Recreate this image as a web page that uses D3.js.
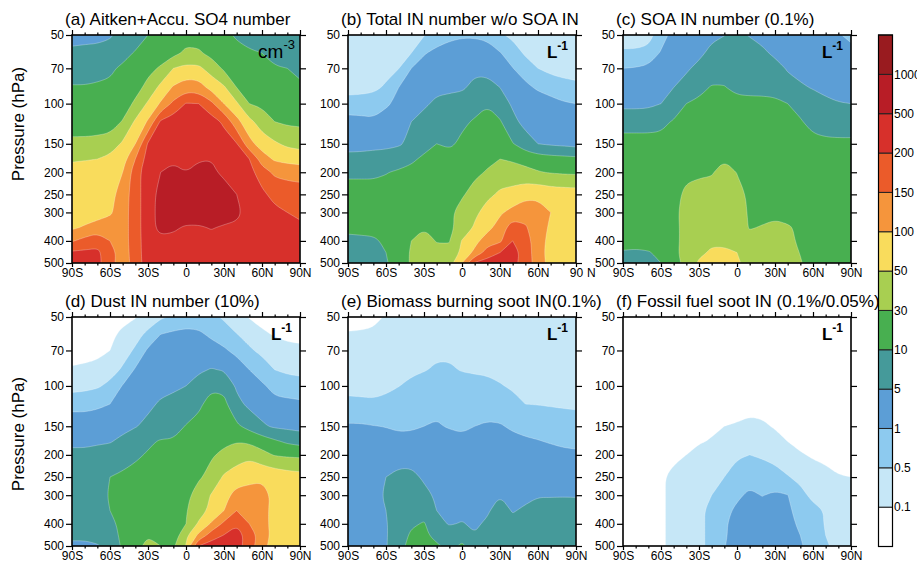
<!DOCTYPE html>
<html><head><meta charset="utf-8">
<script src="https://cdn.jsdelivr.net/npm/d3@7"></script>
<style>body{margin:0;background:#fff} svg text{font-family:"Liberation Sans",Arial,Helvetica,sans-serif}</style>
</head><body><svg id="chart" width="917" height="562"></svg>
<script>
// ---------- grid coordinates ----------
const latitudes = [-90,-80,-70,-60,-50,-40,-30,-20,-10,0,10,20,30,40,50,60,70,80,90];
const pressureLevels = [50,60,70,85,100,120,150,175,200,250,300,350,400,450,500];
// ---------- contour levels / colour bar ----------
const contourLevels = [0.1,0.5,1,5,10,30,50,100,150,200,500,1000];
const colorbarLabels = ["0.1","0.5","1","5","10","30","50","100","150","200","500","1000"];
const fillColors = ["#FFFFFF","#C6E7F7","#8DCAEF","#5C9ED6","#459A9A","#48AF50","#A8CF51","#F9DC5C","#F5953C","#EB5B2A","#D7302B","#B81D26","#991B1F"];
// ---------- ticks ----------
const latTickValues = [-90,-60,-30,0,30,60,90];
const latTickLabels = ["90S","60S","30S","0","30N","60N","90N"];
const latMinorTicks = [-80,-70,-50,-40,-20,-10,10,20,40,50,70,80];
const pressureTicks = [50,70,100,150,200,250,300,400,500];

// ---------- data: rows = pressure levels (50..500 hPa), columns = latitudes (90S..90N) ----------
const so4Number = [
[2.5,2.5,2.5,4,7,7,10,15,17,20,20,17,14,9,7,7,7,6.5,6.5],
[6,6.5,7,7,8,11,14,17,22,33,32,22,17,15,12,10,8,7,6.5],
[7,7,8,9,12,17,22,32,50,60,58,40,25,17,15,13,11,10,8],
[11,11,11.5,12,14,20,35,60,105,125,120,80,55,30,22,18,15,14,13],
[13,13,13.5,14,17,33,55,105,160,210,200,160,100,55,30,24,20,18,17],
[15,15,16,18,31,55,105,230,320,350,350,300,190,115,60,40,30,25,24],
[35,35,36,38,55,100,220,320,400,420,430,400,300,210,115,70,55,45,42],
[48,49,50,60,75,150,300,400,440,460,470,490,450,330,200,125,90,80,75],
[60,60,62,70,100,175,350,500,600,500,600,560,430,350,280,170,140,130,125],
[62,63,65,80,120,175,350,600,700,700,700,700,650,500,380,250,180,178,175],
[66,68,72,90,125,175,350,620,750,750,750,750,700,550,400,330,260,200,180],
[90,105,120,125,125,175,350,600,550,450,450,520,450,450,400,350,330,300,280],
[145,165,180,150,125,175,330,400,400,380,380,380,380,380,370,360,350,340,330],
[230,240,240,170,120,175,320,370,360,350,350,350,350,350,350,350,350,350,350],
[250,260,250,170,115,175,300,350,340,340,340,340,340,340,340,340,340,340,340]
];
const totalInNoSoa = [
[0.2,0.2,0.2,0.2,0.25,0.3,0.45,0.7,0.8,0.9,0.9,0.8,0.55,0.35,0.3,0.25,0.2,0.2,0.2],
[0.2,0.2,0.22,0.25,0.35,0.5,0.95,1.5,2.5,3,3,2.5,1.1,0.7,0.4,0.3,0.25,0.2,0.2],
[0.2,0.2,0.25,0.3,0.48,1.0,1.8,2.5,3,3.5,3.5,3,2,1.05,0.7,0.5,0.35,0.3,0.28],
[0.22,0.25,0.35,0.55,1.0,1.8,2.5,3,3.5,4,6,6.5,5,3,1.5,0.9,0.7,0.62,0.58],
[0.75,0.75,0.72,0.9,1.5,2.5,3.5,6,6.5,7,8,9.5,7,4,3,2.5,2,1.2,1.0],
[1.5,1.4,1.3,2,2.5,5,7,7.5,8,9,11,15,11,6,3,2.5,2.2,2,1.8],
[2,2.2,2.5,3,4,6,8,10,9,12,17,20,17,10.5,7,5,4,3.5,3],
[7,7,7.5,7.5,8,9,12,15,15,17,20,25,30,25,20,17,15,14,13],
[9.5,9.5,9.5,9.8,11,13,15,16,17,20,25,31,40,40,35,31,28,26,25],
[12,12,12,13,14,15,16,17,20,27,35,45,55,60,80,85,75,72,70],
[13,13,13,14,15,17,19,20,25,35,45,65,90,115,130,120,100,75,65],
[14,14,14,15,17,20,28,22,25,35,55,80,120,175,155,120,90,70,65],
[8,8.5,9,12,20,30,38,28,29,52,80,125,140,200,170,120,80,70,65],
[7,7,7.5,10,15,32,38,35,32,60,110,170,200,280,180,115,80,70,65],
[7,7,7.5,9.5,15,32,40,40,40,100,220,300,300,250,180,120,80,70,65]
];
const soaIn = [
[0.25,0.25,0.3,0.7,2,2.5,3,3.5,4.8,6,4.5,3.5,3,3,3,2.5,2,1.2,0.8],
[0.55,0.55,0.6,1.2,2,2.5,3.5,6,7,7.5,7,5.5,4,3,2.5,2.5,2.2,2,2],
[1.0,1.1,1.5,2,2.5,4,6,7,8,8.5,8,7,6,4.5,3,2.5,2.2,2,2],
[1.5,1.6,2,3,5,6.5,8,11,10.5,8.5,8,7.5,7,6,5.5,4.5,3,2.5,2.5],
[3.2,3.2,3.5,5,6.5,10,13,15,16,14,14,15,14,10,8,7,6,5.2,5],
[8,8,8,8.5,11,15,17,17,18,18,17,17,16,15,11,8,7,6.5,6.5],
[14,14,14,14,15,16,17,18,18,18,17,17,17,16,15,14,13,13,13],
[15,15,16,16,17,18,20,22,27,26,20,18,18,17,17,16,16,16,16],
[16,16,17,17,18,24,25,27,38,29,21,19,18,18,17,17,16,16,16],
[16,16,17,18,22,33,37,38,40,35,25,20,18,18,17,17,16,16,16],
[16,16,17,18,25,34,38,38,40,36,27,22,20,19,18,17,16,16,16],
[15,16,17,18,24,34,38,40,40,38,28,31,36,32,24,20,18,17,17],
[14,15,16,18,24,34,45,46,46,42,36,38,38,34,25,20,18,17,17],
[9.5,9,9.5,13,24,35,45,55,55,50,40,38,38,35,29,20,18,17,17],
[7,7,8,10,20,35,55,62,62,55,42,40,38,35,31,20,18,17,17]
];
const dustIn = [
[0.05,0.05,0.05,0.05,0.06,0.09,0.2,0.4,0.55,0.7,0.7,0.6,0.4,0.2,0.09,0.05,0.05,0.05,0.05],
[0.05,0.05,0.05,0.07,0.15,0.3,0.6,1.1,1.5,1.6,1.4,0.9,0.7,0.52,0.3,0.15,0.09,0.06,0.05],
[0.05,0.06,0.07,0.1,0.25,0.55,1.3,2,2.5,2.5,2.5,2,1.3,0.8,0.55,0.35,0.25,0.2,0.18],
[0.12,0.13,0.15,0.25,0.55,1.2,2,2.5,3,3.5,4,5.2,4.5,3,1,0.7,0.5,0.35,0.3],
[0.25,0.3,0.4,0.6,1.1,2,2.5,3,3.5,5,6.5,9,8.5,4,2.5,1.3,0.8,0.75,0.7],
[0.85,0.85,0.9,1.0,1.8,2.5,3.5,5.5,6.5,7,9,14,13,6,3.5,2.5,1.6,1.4,1.3],
[2,2,2.2,2.5,3,4.5,6,7,8,10.5,13,16,16,12,8,5.5,4,3.5,3],
[3.5,3.5,4,4.5,6,8,9,11,11,14,17,20,25,29,25,18,12,9,8],
[6,6,6.5,7,7.5,9,11,13,15,17,20,27,33,40,45,35,28,25,24],
[7,7,7.5,10,12,14,15,16,17,20,26,35,55,70,80,90,80,70,65],
[7.5,7.5,8,11,13,15,16,17,18,22,38,52,80,115,120,115,85,70,65],
[8,8,8.5,10,13,15,16,17,19,28,40,60,100,150,140,115,80,70,65],
[8,8,8.5,9,12,15,16,17,20,30,55,105,160,195,150,115,80,70,65],
[5.5,5.5,6,8,12,17,28,20,16,45,110,175,210,280,180,120,80,70,65],
[4,4,4.5,6,12,20,35,30,25,52,200,300,300,280,175,110,80,70,65]
];
const bbSootIn = [
[0.05,0.05,0.06,0.12,0.15,0.18,0.2,0.25,0.25,0.22,0.2,0.2,0.2,0.2,0.2,0.2,0.2,0.2,0.2],
[0.12,0.13,0.15,0.2,0.22,0.24,0.26,0.28,0.28,0.27,0.26,0.25,0.25,0.24,0.23,0.22,0.22,0.22,0.22],
[0.2,0.2,0.2,0.22,0.25,0.28,0.32,0.36,0.36,0.33,0.3,0.3,0.28,0.27,0.26,0.25,0.24,0.24,0.24],
[0.25,0.25,0.25,0.28,0.3,0.35,0.45,0.55,0.55,0.45,0.4,0.38,0.35,0.3,0.28,0.27,0.26,0.25,0.25],
[0.3,0.3,0.32,0.38,0.48,0.6,0.7,0.75,0.75,0.7,0.65,0.6,0.52,0.42,0.38,0.35,0.33,0.32,0.3],
[0.6,0.58,0.55,0.58,0.7,0.75,0.8,0.85,0.85,0.8,0.8,0.75,0.7,0.6,0.5,0.48,0.45,0.43,0.42],
[1.2,1.2,1.05,0.98,0.9,0.92,1.0,1.15,0.95,0.85,1.0,1.2,1.15,0.9,0.8,0.75,0.7,0.65,0.62],
[1.8,1.8,1.8,1.7,1.6,1.6,1.7,1.8,1.8,1.7,1.7,1.8,1.8,1.6,1.3,1.1,0.95,0.85,0.8],
[2,2,2,2.2,2.5,2.5,2.5,2.5,2.5,2.5,2.5,2.5,2.5,2.3,2.1,2,1.8,1.6,1.5],
[2.5,2.5,2.7,5,6,6,4,3,2.8,2.8,2.8,2.8,2.8,2.8,2.8,2.8,2.8,2.8,2.8],
[2.8,2.8,3,5.5,7,7.5,6,4,3,3,3,3.5,4.8,3.5,3.5,4.5,4.5,4.6,4.5],
[3,3,3.5,5,7,8,7.5,5,3.5,3.5,3.5,4.2,6.5,4.5,5.5,6.5,6.5,6.5,6.5],
[3,3,3.5,4.5,7,9,11,6,4.5,5.2,4,5.5,7,6,7,7,7,7,7],
[3,3,3.5,4.5,7,12,13,8,7,8,5.2,7,8,7.5,7.5,7.5,7.5,7.5,7.5],
[3,3,3.5,4.5,8,14,15,12,8,12,7,8,9,8,8,8,8,8,8]
];
const ffSootIn = [
[0.03,0.03,0.03,0.03,0.03,0.03,0.03,0.03,0.03,0.03,0.03,0.03,0.03,0.03,0.03,0.03,0.03,0.03,0.03],
[0.03,0.03,0.03,0.03,0.03,0.03,0.03,0.03,0.03,0.03,0.03,0.03,0.03,0.03,0.03,0.03,0.03,0.03,0.03],
[0.03,0.03,0.03,0.03,0.03,0.03,0.03,0.03,0.03,0.03,0.03,0.03,0.03,0.03,0.03,0.03,0.03,0.03,0.03],
[0.03,0.03,0.03,0.03,0.03,0.03,0.03,0.035,0.04,0.04,0.04,0.04,0.035,0.03,0.03,0.03,0.03,0.03,0.03],
[0.03,0.03,0.03,0.03,0.03,0.03,0.035,0.04,0.045,0.05,0.05,0.05,0.045,0.04,0.035,0.03,0.03,0.03,0.03],
[0.03,0.03,0.03,0.03,0.035,0.04,0.045,0.05,0.06,0.065,0.07,0.065,0.06,0.05,0.045,0.04,0.035,0.03,0.03],
[0.03,0.03,0.03,0.035,0.04,0.05,0.06,0.08,0.1,0.11,0.13,0.12,0.09,0.07,0.055,0.045,0.04,0.035,0.03],
[0.03,0.03,0.03,0.04,0.05,0.07,0.09,0.11,0.15,0.2,0.22,0.2,0.15,0.1,0.06,0.05,0.04,0.04,0.04],
[0.03,0.03,0.04,0.05,0.07,0.1,0.15,0.2,0.3,0.4,0.5,0.4,0.3,0.2,0.12,0.08,0.06,0.05,0.05],
[0.04,0.05,0.06,0.08,0.15,0.2,0.25,0.35,0.5,0.7,0.8,0.75,0.65,0.52,0.35,0.25,0.18,0.11,0.1],
[0.05,0.05,0.06,0.08,0.15,0.22,0.3,0.5,0.7,0.9,1.3,0.98,1.3,1.05,0.6,0.35,0.25,0.18,0.15],
[0.05,0.05,0.06,0.08,0.15,0.22,0.35,0.6,0.85,1.3,1.6,1.6,1.6,1.3,0.8,0.6,0.45,0.3,0.25],
[0.05,0.05,0.06,0.08,0.15,0.22,0.35,0.6,0.95,1.4,1.8,1.8,1.8,1.5,0.9,0.65,0.45,0.3,0.25],
[0.05,0.05,0.06,0.08,0.15,0.22,0.35,0.6,0.95,1.5,2,2,2,1.6,1.0,0.7,0.5,0.3,0.25],
[0.05,0.05,0.06,0.08,0.15,0.22,0.35,0.6,0.98,1.6,2.2,2.2,2.2,1.8,1.2,0.75,0.55,0.3,0.25]
];

const panels = [
  {title:"(a) Aitken+Accu. SO4 number", data:so4Number, unit:"cm", sup:"-3", bold:false, ylabel:true},
  {title:"(b) Total IN number w/o SOA IN", data:totalInNoSoa, unit:"L", sup:"-1", bold:true},
  {title:"(c) SOA IN number (0.1%)", data:soaIn, unit:"L", sup:"-1", bold:true},
  {title:"(d) Dust IN number (10%)", data:dustIn, unit:"L", sup:"-1", bold:true, ylabel:true},
  {title:"(e) Biomass burning soot IN(0.1%)", data:bbSootIn, unit:"L", sup:"-1", bold:true},
  {title:"(f) Fossil fuel soot IN (0.1%/0.05%)", data:ffSootIn, unit:"L", sup:"-1", bold:true}
];

// ---------- layout ----------
const panelLefts = [72, 348, 623];
const panelTops = [35, 317];
const panelWidth = 228;
const panelHeights = [228, 229];
const ylabelCenters = [124, 434];
const FONT = '"Liberation Sans", Arial, Helvetica, sans-serif';

const svg = d3.select("#chart");
const nx = latitudes.length, ny = pressureLevels.length;

// value -> continuous band position (log interpolation between contour levels)
const ext = [0.02, ...contourLevels, 2000];
function bandIndex(v){
  if (v <= ext[0]) return 0;
  for (let k = 0; k < ext.length - 1; k++) {
    if (v < ext[k+1]) return k + Math.log(v/ext[k]) / Math.log(ext[k+1]/ext[k]);
  }
  return ext.length - 1;
}

// corner-cutting smoothing of a closed ring, keeping points lying on the panel frame fixed
function smoothRing(pts, isFixed, iterations){
  let r = pts.slice(0, -1);
  for (let it = 0; it < iterations; it++) {
    const n = r.length, out = [];
    if (n < 3) break;
    for (let k = 0; k < n; k++) {
      const p = r[k], a = r[(k - 1 + n) % n], b = r[(k + 1) % n];
      if (isFixed(p)) { out.push(p); continue; }
      out.push([0.75*p[0] + 0.25*a[0], 0.75*p[1] + 0.25*a[1]]);
      out.push([0.75*p[0] + 0.25*b[0], 0.75*p[1] + 0.25*b[1]]);
    }
    r = out;
  }
  return r;
}

panels.forEach((p, i) => {
  const col = i % 3, row = Math.floor(i / 3);
  const left = panelLefts[col], top = panelTops[row], w = panelWidth, h = panelHeights[row];
  const x = d3.scaleLinear().domain([-90, 90]).range([left, left + w]);
  const y = d3.scaleLog().domain([50, 500]).range([top, top + h]);
  const g = svg.append("g");

  const toX = u => {
    const t = Math.max(0, Math.min(nx - 1, u - 0.5));
    const i0 = Math.min(Math.floor(t), nx - 2), f = t - i0;
    return x(latitudes[i0] + f * (latitudes[i0+1] - latitudes[i0]));
  };
  const toY = v => {
    const t = Math.max(0, Math.min(ny - 1, v - 0.5));
    const j0 = Math.min(Math.floor(t), ny - 2), f = t - j0;
    const lp = Math.log(pressureLevels[j0]) + f * (Math.log(pressureLevels[j0+1]) - Math.log(pressureLevels[j0]));
    return y(Math.exp(lp));
  };
  const eps = 0.01;
  const onFrame = q => Math.abs(q[0] - left) < eps || Math.abs(q[0] - left - w) < eps ||
                       Math.abs(q[1] - top) < eps || Math.abs(q[1] - top - h) < eps;

  g.append("rect").attr("x", left).attr("y", top).attr("width", w).attr("height", h).attr("fill", fillColors[0]);

  const values = p.data.flat().map(bandIndex);
  const contours = d3.contours().size([nx, ny]).thresholds(d3.range(1, contourLevels.length + 1))(values);
  const pathOf = mp => mp.coordinates.map(poly => poly.map(ring => {
      const scr = ring.map(([u, v]) => [toX(u), toY(v)]);
      const sm = smoothRing(scr, onFrame, 3);
      return "M" + sm.map(q => q[0].toFixed(2) + "," + q[1].toFixed(2)).join("L") + "Z";
    }).join("")).join("");
  g.selectAll("path.band").data(contours).join("path")
    .attr("class", "band")
    .attr("d", pathOf)
    .attr("fill", c => fillColors[c.value])
    .attr("fill-rule", "evenodd")
    .attr("stroke", "rgba(255,255,255,0.45)")
    .attr("stroke-width", 0.6);

  // axes
  const styleAxis = (sel) => {
    sel.select(".domain").remove();
    sel.attr("font-size", 12).attr("font-family", FONT);
    sel.selectAll("line").attr("stroke", "#000").attr("stroke-width", 1.2);
    sel.selectAll("text").attr("fill", "#000");
  };
  const gb = g.append("g").attr("transform", `translate(0,${top + h})`)
    .call(d3.axisBottom(x).tickValues(latTickValues).tickFormat((d, k) => latTickLabels[k]).tickSize(4).tickPadding(1).tickSizeOuter(0))
    .call(styleAxis);
  g.append("g").attr("transform", `translate(0,${top + h})`)
    .call(d3.axisBottom(x).tickValues(latMinorTicks).tickFormat("").tickSize(2.5).tickSizeOuter(0)).call(styleAxis);
  g.append("g").attr("transform", `translate(0,${top})`)
    .call(d3.axisTop(x).tickValues(latTickValues).tickFormat("").tickSize(5).tickSizeOuter(0)).call(styleAxis);
  g.append("g").attr("transform", `translate(0,${top})`)
    .call(d3.axisTop(x).tickValues(latMinorTicks).tickFormat("").tickSize(2.5).tickSizeOuter(0)).call(styleAxis);
  g.append("g").attr("transform", `translate(${left},0)`)
    .call(d3.axisLeft(y).tickValues(pressureTicks).tickFormat(d3.format("d")).tickSize(6).tickPadding(2).tickSizeOuter(0)).call(styleAxis);
  g.append("g").attr("transform", `translate(${left + w},0)`)
    .call(d3.axisRight(y).tickValues(pressureTicks).tickFormat("").tickSize(6).tickSizeOuter(0)).call(styleAxis);

  if (i === 1) {
    // the reference shows the last label of panel (b) split as "90  N"
    gb.selectAll(".tick text").filter((d) => d === 90).text("90");
    g.append("text").attr("x", left + w + 11).attr("y", top + h + 14)
      .attr("font-size", 12).attr("font-family", FONT).text("N");
  }

  // frame
  g.append("rect").attr("x", left).attr("y", top).attr("width", w).attr("height", h)
    .attr("fill", "none").attr("stroke", "#000").attr("stroke-width", 1.6);

  // title
  g.append("text").attr("x", left - 7).attr("y", top - 10.5)
    .attr("font-size", 17).attr("font-family", FONT).text(p.title);

  // unit
  const ut = g.append("text").attr("text-anchor", "end")
    .attr("x", p.bold ? left + w - 8 : left + w - 5).attr("y", top + 23)
    .attr("font-family", FONT).attr("font-weight", p.bold ? "bold" : "normal");
  ut.append("tspan").attr("font-size", p.bold ? 17 : 19).text(p.unit);
  ut.append("tspan").attr("font-size", p.bold ? 12 : 13).attr("dy", p.bold ? -8 : -9).text(p.sup);

  if (p.ylabel) {
    svg.append("text").attr("transform", `translate(24,${ylabelCenters[row]}) rotate(-90)`)
      .attr("text-anchor", "middle").attr("font-size", 17).attr("font-family", FONT)
      .text("Pressure (hPa)");
  }
});

// ---------- colour bar ----------
const cbX = 878.5, cbW = 14, cbTop = 35, cbBottom = 546.5;
const nBox = fillColors.length;
const cbY = d3.scaleLinear().domain([0, nBox]).range([cbBottom, cbTop]);
const cb = svg.append("g");
cb.selectAll("rect.box").data(fillColors).join("rect")
  .attr("class", "box")
  .attr("x", cbX).attr("width", cbW)
  .attr("y", (d, k) => cbY(k + 1)).attr("height", (d, k) => cbY(k) - cbY(k + 1))
  .attr("fill", d => d).attr("stroke", "#222").attr("stroke-width", 1);
cb.append("rect").attr("x", cbX).attr("y", cbTop).attr("width", cbW).attr("height", cbBottom - cbTop)
  .attr("fill", "none").attr("stroke", "#000").attr("stroke-width", 1.2);
cb.selectAll("text.cbl").data(colorbarLabels).join("text")
  .attr("class", "cbl")
  .attr("x", cbX + cbW + 1.5).attr("y", (d, k) => cbY(k + 1))
  .attr("dy", "0.35em").attr("font-size", 12).attr("font-family", FONT).text(d => d);
</script>
</body></html>
